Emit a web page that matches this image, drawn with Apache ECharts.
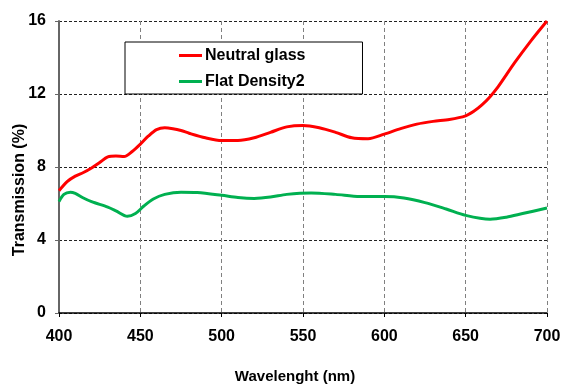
<!DOCTYPE html>
<html>
<head>
<meta charset="utf-8">
<script src="https://cdn.jsdelivr.net/npm/echarts@6/dist/echarts.min.js"></script>
<style>
html,body{margin:0;padding:0;background:#fff;}
#chart{width:562px;height:385px;}
</style>
</head>
<body>
<div id="chart"></div>
<script>
var neutralX = [400,405,410,415,420,425,430,435,440,445,450,455,460,465,470,475,480,490,500,510,520,530,540,550,560,570,580,590,600,610,620,630,640,650,655,660,665,670,680,690,700];
var neutralY = [6.7,7.2,7.5,7.7,7.95,8.25,8.55,8.6,8.57,8.85,9.25,9.7,10.05,10.15,10.1,10.0,9.85,9.6,9.45,9.45,9.6,9.9,10.2,10.28,10.15,9.9,9.6,9.55,9.8,10.1,10.35,10.5,10.6,10.8,11.05,11.4,11.85,12.4,13.7,14.9,16.0];
var flatX = [400,403,407,410,415,420,430,435,442,447,452,458,465,475,485,500,510,520,530,540,555,570,585,600,612,625,638,650,665,675,685,700];
var flatY = [6.1,6.5,6.62,6.55,6.3,6.1,5.8,5.6,5.3,5.45,5.85,6.25,6.5,6.62,6.6,6.45,6.33,6.28,6.35,6.5,6.58,6.5,6.38,6.38,6.3,6.05,5.7,5.35,5.14,5.25,5.45,5.75];
var xTicks = [400,450,500,550,600,650,700];
var yTicks = [0,4,8,12,16];
var seriesNames = ['Neutral glass','Flat Density2'];

function pairs(xs, ys){ return xs.map(function(x,i){ return [x, ys[i]]; }); }

var font = '"Liberation Sans", Arial, sans-serif';
var chart = echarts.init(document.getElementById('chart'), null, {renderer:'canvas'});
chart.setOption({
  animation:false,
  backgroundColor:'#fff',
  grid:{left:59, right:15, top:21, bottom:72, outerBoundsMode:'none', containLabel:false},
  legend:{
    orient:'vertical', left:125, top:42,
    borderColor:'#000', borderWidth:1, backgroundColor:'#fff',
    padding:[5,57,4,54], itemGap:9,
    itemWidth:23, itemHeight:3, icon:'rect',
    textStyle:{fontFamily:font, fontWeight:'bold', fontSize:16, color:'#000', lineHeight:17, padding:[0,0,0,-2]},
    data:seriesNames
  },
  xAxis:{
    type:'value', min:xTicks[0], max:xTicks[xTicks.length-1], interval:50,
    name:'Wavelenght (nm)', nameLocation:'middle', nameGap:56, nameMoveOverlap:false,
    nameTextStyle:{fontFamily:font, fontWeight:'bold', fontSize:15, color:'#000', padding:[0,16,0,0]},
    axisLine:{lineStyle:{color:'#000', width:1.5}},
    axisTick:{show:true, length:4, lineStyle:{color:'#000'}},
    axisLabel:{fontFamily:font, fontWeight:'bold', fontSize:16, color:'#000', margin:16},
    splitLine:{show:true, lineStyle:{color:'#808080', type:[4,3], width:1}}
  },
  yAxis:{
    type:'value', min:yTicks[0], max:yTicks[yTicks.length-1], interval:4,
    name:'Transmission (%)', nameLocation:'middle', nameGap:31, nameMoveOverlap:false,
    nameTextStyle:{fontFamily:font, fontWeight:'bold', fontSize:16, color:'#000', padding:[0,46,0,0]},
    axisLine:{show:true, lineStyle:{color:'#666', width:2}},
    axisTick:{show:true, length:4, lineStyle:{color:'#666'}},
    axisLabel:{fontFamily:font, fontWeight:'bold', fontSize:16, color:'#000', margin:13},
    splitLine:{show:true, lineStyle:{color:'#222', type:[3,2], width:1}}
  },
  series:[
    {name:seriesNames[0], type:'line', data:pairs(neutralX, neutralY), smooth:0.3, showSymbol:false, symbol:'none',
     lineStyle:{color:'#FF0000', width:3}, itemStyle:{color:'#FF0000'}, z:3},
    {name:seriesNames[1], type:'line', data:pairs(flatX, flatY), smooth:0.3, showSymbol:false, symbol:'none',
     lineStyle:{color:'#00B050', width:3}, itemStyle:{color:'#00B050'}, z:3}
  ]
});
</script>
</body>
</html>
